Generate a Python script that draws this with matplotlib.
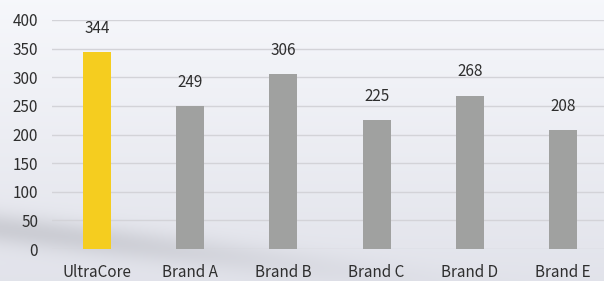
import numpy as np
import matplotlib
matplotlib.use("Agg")
import matplotlib.pyplot as plt

brands = ["UltraCore", "Brand A", "Brand B", "Brand C", "Brand D", "Brand E"]
scores = [344, 249, 306, 225, 268, 208]
bar_colors = ["#F5CD1F", "#A0A1A0", "#A0A1A0", "#A0A1A0", "#A0A1A0", "#A0A1A0"]
yticks = [0, 50, 100, 150, 200, 250, 300, 350, 400]

plt.rcParams['font.family'] = ['Noto Sans CJK SC', 'DejaVu Sans']

fig = plt.figure(figsize=(6.04, 2.81), dpi=100)

# soft photo-like background
h, w = 281, 604
yy, xx = np.mgrid[0:h, 0:w]
top = np.array([0.965, 0.970, 0.985])
bot = np.array([0.885, 0.890, 0.920])
t = (yy / h)[..., None]
bg = top * (1 - t) + bot * t
# darker smudge towards the bottom left
band = np.exp(-((yy - (228 + 0.12 * xx)) / 16.0) ** 2) * np.exp(-(xx / 300.0) ** 2)
bg = bg - 0.10 * band[..., None]
bg = np.clip(bg, 0, 1)
bg_ax = fig.add_axes([0, 0, 1, 1], zorder=-1)
bg_ax.imshow(bg, aspect='auto', interpolation='bilinear')
bg_ax.axis('off')

ax = fig.add_axes([52 / 604, (281 - 249) / 281, 552 / 604, 229 / 281])
ax.patch.set_alpha(0)
x = np.arange(len(brands))
ax.bar(x, scores, width=0.30, color=bar_colors, zorder=3)
for xi, v in zip(x, scores):
    ax.annotate(str(v), (xi, v), xytext=(0, 11), textcoords='offset points',
                ha='center', va='bottom', fontsize=11, color='#2e2e2e')

ax.set_xlim(-0.483, 5.44)
ax.set_ylim(0, 400)
ax.set_yticks(yticks)
ax.set_xticks(x)
ax.set_xticklabels(brands)
ax.tick_params(axis='both', length=0, labelsize=11, labelcolor='#2e2e2e')
ax.tick_params(axis='y', pad=10)
ax.tick_params(axis='x', pad=11)
ax.grid(axis='y', color='#d3d3d8', linewidth=1, zorder=0)
for s in ax.spines.values():
    s.set_visible(False)

fig.savefig("out.png", dpi=100)
